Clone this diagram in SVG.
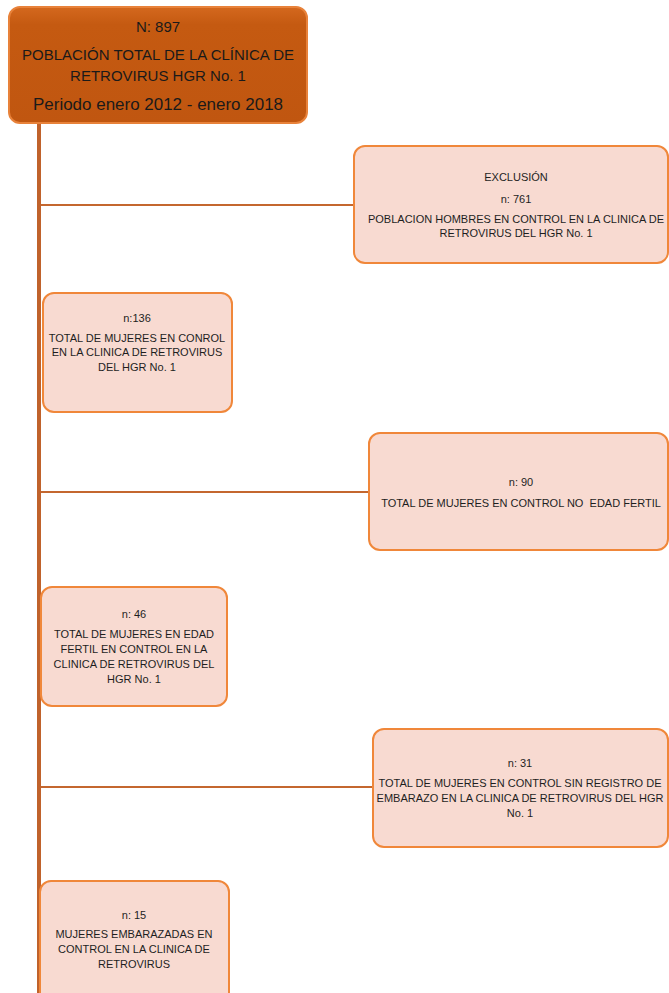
<svg xmlns="http://www.w3.org/2000/svg" width="669" height="993" viewBox="0 0 669 993">
<defs>
<style>
.top{fill:#C55A11;stroke:#E8823A;stroke-width:2}
.box{fill:#F8DAD1;stroke:#F0873A;stroke-width:2}
.t{font-family:"Liberation Sans",Arial,sans-serif;font-size:11px;fill:#1e1e1e;text-anchor:middle}
.tt{font-family:"Liberation Sans",Arial,sans-serif;font-size:15px;fill:#1a1a1a;text-anchor:middle}
.v{stroke:#C0622B;stroke-width:4;fill:none}
.h{stroke:#C4672F;stroke-width:2;fill:none}
</style>
<linearGradient id="tg" x1="0" y1="0" x2="0" y2="1">
<stop offset="0" stop-color="#D4681E"/>
<stop offset="0.15" stop-color="#C55A11"/>
<stop offset="1" stop-color="#C05610"/>
</linearGradient>
</defs>
<rect width="669" height="993" fill="#FFFFFF"/>
<g id="connectors">
<line class="v" x1="39" y1="122" x2="39" y2="993"/>
<line class="h" x1="41" y1="205" x2="355" y2="205"/>
<line class="h" x1="41" y1="492" x2="369" y2="492"/>
<line class="h" x1="41" y1="787" x2="373" y2="787"/>
</g>
<g id="n897">
<rect class="top" x="9" y="7" width="298" height="116" rx="11" fill="url(#tg)" style="fill:url(#tg)"/>
<text class="tt" x="158" y="32">N: 897</text>
<text class="tt" x="158" y="60">POBLACIÓN TOTAL DE LA CLÍNICA DE</text>
<text class="tt" x="158" y="81">RETROVIRUS HGR No. 1</text>
<text class="tt" x="158" y="110" font-size="16" style="font-size:16px" textLength="250" lengthAdjust="spacingAndGlyphs">Periodo enero 2012 - enero 2018</text>
</g>
<g id="n761">
<rect class="box" x="354" y="146" width="314" height="117" rx="11"/>
<text class="t" x="516" y="181">EXCLUSIÓN</text>
<text class="t" x="516" y="203">n: 761</text>
<text class="t" x="516" y="223">POBLACION HOMBRES EN CONTROL EN LA CLINICA DE</text>
<text class="t" x="516" y="237">RETROVIRUS DEL HGR No. 1</text>
</g>
<g id="n136">
<rect class="box" x="43" y="293" width="189" height="119" rx="11"/>
<text class="t" x="137" y="322">n:136</text>
<text class="t" x="137" y="342">TOTAL DE MUJERES EN CONROL</text>
<text class="t" x="137" y="356">EN LA CLINICA DE RETROVIRUS</text>
<text class="t" x="137" y="371">DEL HGR No. 1</text>
</g>
<g id="n90">
<rect class="box" x="369" y="433" width="299" height="117" rx="11"/>
<text class="t" x="521" y="486">n: 90</text>
<text class="t" x="521" y="507" xml:space="preserve">TOTAL DE MUJERES EN CONTROL NO  EDAD FERTIL</text>
</g>
<g id="n46">
<rect class="box" x="41" y="587" width="186" height="119" rx="11"/>
<text class="t" x="134" y="618">n: 46</text>
<text class="t" x="134" y="638">TOTAL DE MUJERES EN EDAD</text>
<text class="t" x="134" y="653">FERTIL EN CONTROL EN LA</text>
<text class="t" x="134" y="668">CLINICA DE RETROVIRUS DEL</text>
<text class="t" x="134" y="683">HGR No. 1</text>
</g>
<g id="n31">
<rect class="box" x="373" y="729" width="295" height="118" rx="11"/>
<text class="t" x="520" y="767">n: 31</text>
<text class="t" x="520" y="787">TOTAL DE MUJERES EN CONTROL SIN REGISTRO DE</text>
<text class="t" x="520" y="802">EMBARAZO EN LA CLINICA DE RETROVIRUS DEL HGR</text>
<text class="t" x="520" y="817">No. 1</text>
</g>
<g id="n15">
<rect class="box" x="40" y="881" width="189" height="125" rx="11"/>
<text class="t" x="134" y="919">n: 15</text>
<text class="t" x="134" y="938">MUJERES EMBARAZADAS EN</text>
<text class="t" x="134" y="953">CONTROL EN LA CLINICA DE</text>
<text class="t" x="134" y="968">RETROVIRUS</text>
</g>
</svg>
